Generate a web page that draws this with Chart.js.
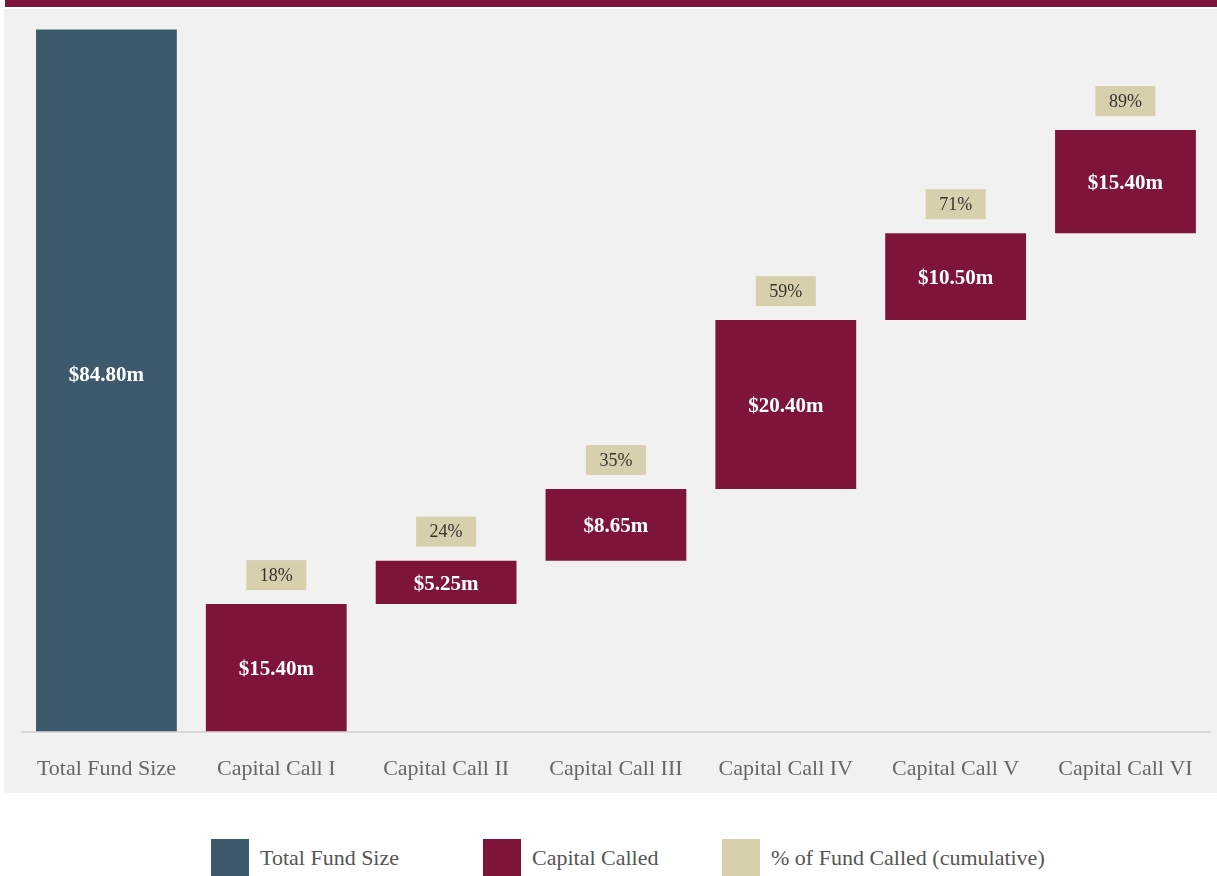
<!DOCTYPE html>
<html>
<head>
<meta charset="utf-8">
<script src="https://cdn.jsdelivr.net/npm/chart.js@4.4.1/dist/chart.umd.min.js"></script>
<style>
  html, body { margin: 0; padding: 0; background: #ffffff; width: 1217px; height: 876px; overflow: hidden; }
  #topbar { position: absolute; left: 5px; top: 0; width: 1212px; height: 7px; background: #7e1439; }
  #panel { position: absolute; left: 4px; top: 9px; width: 1213px; height: 784px; background: #f1f1f1; }
  #wrap { position: absolute; left: 0; top: 0; width: 1217px; height: 810px; }
  .leg { position: absolute; top: 839px; height: 37px; display: flex; align-items: center;
         font-family: "Liberation Serif", serif; font-size: 22px; color: #555; white-space: nowrap; }
  .leg .sw { width: 38px; height: 37px; margin-right: 11px; }
</style>
</head>
<body>
<div id="topbar"></div>
<div id="panel"></div>
<div id="wrap"><canvas id="c" width="1217" height="810"></canvas></div>
<div class="leg" style="left:211px"><div class="sw" style="background:#3d5a6c"></div>Total Fund Size</div>
<div class="leg" style="left:483px"><div class="sw" style="background:#7e1439"></div>Capital Called</div>
<div class="leg" style="left:722px"><div class="sw" style="background:#d8cfad"></div>% of Fund Called (cumulative)</div>
<script>
const categories = ["Total Fund Size", "Capital Call I", "Capital Call II", "Capital Call III", "Capital Call IV", "Capital Call V", "Capital Call VI"];
const totalFund = 84.8;
const totalLabel = "$84.80m";
// plotted heights of each capital call bar
const calledValues = [15.4, 5.25, 8.65, 20.4, 10.5, 12.45];
const calledLabels = ["$15.40m", "$5.25m", "$8.65m", "$20.40m", "$10.50m", "$15.40m"];
const pctLabels = ["18%", "24%", "35%", "59%", "71%", "89%"];

const totalData = categories.map((c, i) => i === 0 ? [0, totalFund] : null);
let cum = 0;
const calledData = [null];
calledValues.forEach(v => { calledData.push([cum, cum + v]); cum += v; });

const barLabelPlugin = {
  id: 'barLabels',
  afterDatasetsDraw(chart) {
    const ctx = chart.ctx;
    ctx.save();
    ctx.textAlign = 'center';
    ctx.textBaseline = 'middle';
    const m0 = chart.getDatasetMeta(0).data[0];
    ctx.fillStyle = '#ffffff';
    ctx.font = 'bold 21px "Liberation Serif"';
    ctx.fillText(totalLabel, m0.x, (m0.y + m0.base) / 2 - 5);
    const meta = chart.getDatasetMeta(1);
    meta.data.forEach((el, i) => {
      if (i === 0) return;
      const k = i - 1;
      const top = Math.min(el.y, el.base), bot = Math.max(el.y, el.base);
      ctx.fillStyle = '#ffffff';
      ctx.font = 'bold 21px "Liberation Serif"';
      ctx.fillText(calledLabels[k], el.x, (top + bot) / 2 + 2);
      const bw = 60, bh = 30;
      const by = top - 14 - bh;
      ctx.fillStyle = '#d8cfad';
      ctx.fillRect(el.x - bw / 2, by, bw, bh);
      ctx.fillStyle = '#333333';
      ctx.font = '18px "Liberation Serif"';
      ctx.fillText(pctLabels[k], el.x, by + bh / 2 + 1);
    });
    ctx.restore();
  }
};

new Chart(document.getElementById('c'), {
  type: 'bar',
  data: {
    labels: categories,
    datasets: [
      { label: 'Total Fund Size', data: totalData, backgroundColor: '#3d5a6c', grouped: false, barPercentage: 0.829, categoryPercentage: 1.0 },
      { label: 'Capital Called', data: calledData, backgroundColor: '#7e1439', grouped: false, barPercentage: 0.829, categoryPercentage: 1.0 }
    ]
  },
  options: {
    responsive: false,
    animation: false,
    layout: { padding: { left: 21.5, right: 4.5, top: 20, bottom: 4 } },
    plugins: { legend: { display: false }, tooltip: { enabled: false } },
    scales: {
      y: { display: false, min: 0, max: 85.95 },
      x: {
        grid: { display: false, drawTicks: false },
        border: { display: true, color: '#d9d9d9', width: 2 },
        ticks: { color: '#666666', font: { family: '"Liberation Serif"', size: 22 }, padding: 24 }
      }
    }
  },
  plugins: [barLabelPlugin]
});
</script>
</body>
</html>
